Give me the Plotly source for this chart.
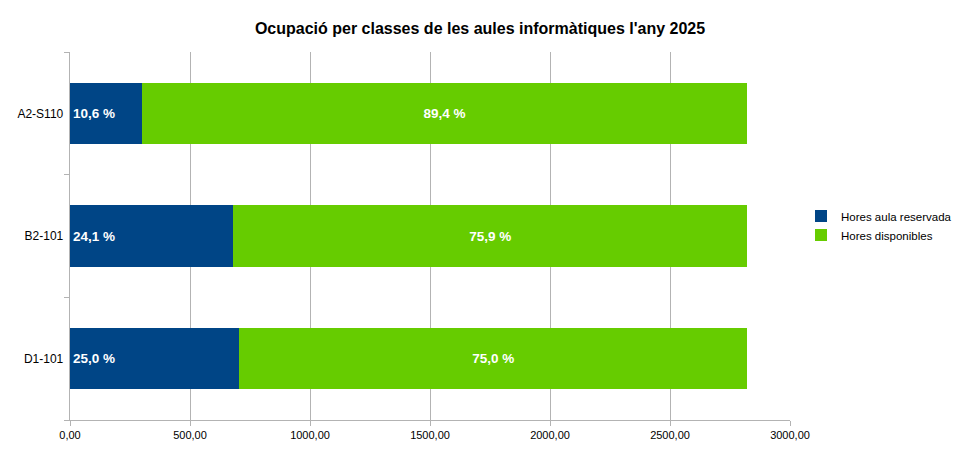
import plotly.graph_objects as go

ROOMS = ["D1-101", "B2-101", "A2-S110"]
RESERVED = [706, 680, 299]
AVAILABLE = [2116, 2142, 2523]
RESERVED_PCT = ["25,0 %", "24,1 %", "10,6 %"]
AVAILABLE_PCT = ["75,0 %", "75,9 %", "89,4 %"]
X_TICKS = [0, 500, 1000, 1500, 2000, 2500, 3000]

FONT = "Liberation Sans"
# the page body adds an 8px offset, so the figure is sized to fit the window
W, H = 952, 445

fig = go.Figure()
fig.add_trace(go.Bar(
    y=ROOMS, x=RESERVED, orientation="h", name="Hores aula reservada",
    marker=dict(color="#004586", line_width=0),
    text=RESERVED_PCT, textposition="inside", insidetextanchor="start",
    textfont=dict(family=FONT, size=13.5, color="white", weight="bold"),
    hoverinfo="x+y",
))
fig.add_trace(go.Bar(
    y=ROOMS, x=AVAILABLE, orientation="h", name="Hores disponibles",
    marker=dict(color="#66cc00", line_width=0),
    text=AVAILABLE_PCT, textposition="inside", insidetextanchor="middle",
    textfont=dict(family=FONT, size=13.5, color="white", weight="bold"),
    hoverinfo="x+y",
))

fig.update_layout(
    width=W, height=H,
    barmode="stack", bargap=0.5,
    separators=",.",
    paper_bgcolor="white", plot_bgcolor="white",
    font=dict(family=FONT, size=12, color="black"),
    title=dict(text="<b>Ocupació per classes de les aules informàtiques l'any 2025</b>",
               x=472 / W, xref="container", xanchor="center",
               y=1 - 20 / H, yref="container", yanchor="middle",
               font=dict(size=16, family=FONT)),
    margin=dict(l=62, r=170, t=44, b=33, autoexpand=False),
    legend=dict(x=793 / W, y=1 - 217.5 / H, xref="container", yref="container",
                xanchor="left", yanchor="middle",
                font=dict(size=11.5, family=FONT), traceorder="normal",
                itemwidth=30, tracegroupgap=0),
    uniformtext=dict(mode="show", minsize=13.5),
)
fig.update_xaxes(
    range=[0, 3000], tickvals=X_TICKS, tickformat=".2f",
    showgrid=True, gridcolor="#b3b3b3", gridwidth=1,
    showline=True, linecolor="#b3b3b3", ticks="outside", ticklen=5, tickcolor="#b3b3b3",
    zeroline=False, tickfont=dict(size=11), automargin=False,
)
fig.update_yaxes(
    showline=True, linecolor="#b3b3b3", ticks="outside", ticklen=5, tickcolor="#b3b3b3",
    tickson="boundaries", showgrid=False, ticksuffix=" ", automargin=False,
)

fig.write_html("out.html")
